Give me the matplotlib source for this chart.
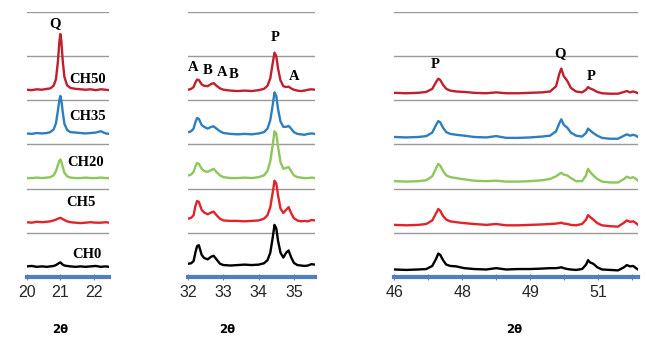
import matplotlib.pyplot as plt

names = ['CH0', 'CH5', 'CH20', 'CH35', 'CH50']
colors = ['#000000', '#E2232A', '#8DC65A', '#2E7DC0', '#C0202E']

# panel 1: 20-22.45
x1 = [20.0, 20.15, 20.3, 20.45, 20.6, 20.7, 20.8, 20.87, 20.93, 20.97, 21.0, 21.03,
      21.07, 21.12, 21.2, 21.3, 21.45, 21.6, 21.75, 21.9, 22.05, 22.2, 22.35, 22.45]
p1_ch0 = [.24, .25, .23, .24, .23, .24, .25, .27, .30, .32, .33, .31, .28, .26, .25, .24, .23, .24, .23, .24, .25, .23, .24, .23]
p1_ch5 = [.24, .23, .25, .24, .25, .26, .28, .30, .32, .33, .34, .33, .31, .29, .26, .24, .23, .22, .23, .24, .23, .23, .24, .23]
p1_ch20 = [.24, .24, .25, .24, .25, .26, .30, .40, .54, .63, .66, .61, .49, .36, .28, .25, .24, .24, .25, .24, .24, .25, .24, .24]
p1_ch35 = [.25, .24, .26, .25, .26, .28, .34, .48, .78, 1.0, 1.1, 1.0, .74, .47, .33, .28, .27, .26, .25, .26, .27, .30, .25, .24]
p1_ch50 = [.24, .23, .25, .24, .26, .27, .33, .48, .90, 1.32, 1.5, 1.34, .90, .53, .34, .28, .26, .25, .24, .25, .23, .25, .24, .23]

# panel 2: 32-35.6
x2 = [32.0, 32.08, 32.15, 32.2, 32.25, 32.3, 32.38, 32.45, 32.55, 32.65, 32.72, 32.8, 32.9,
      33.0, 33.2, 33.4, 33.6, 33.8, 34.0, 34.15, 34.25, 34.33, 34.4, 34.45, 34.5, 34.55,
      34.62, 34.7, 34.78, 34.85, 34.92, 35.0, 35.1, 35.2, 35.3, 35.4, 35.5, 35.6]
p2_ch0 = [.30, .31, .36, .55, .70, .72, .50, .43, .40, .46, .48, .40, .30, .27, .26, .27, .28, .27, .28,
          .31, .38, .55, .90, 1.18, 1.1, .82, .55, .44, .55, .60, .45, .32, .27, .26, .25, .26, .29, .28]
p2_ch5 = [.32, .34, .40, .60, .72, .70, .52, .46, .42, .46, .48, .40, .32, .28, .27, .27, .26, .27, .28,
          .32, .40, .58, .92, 1.18, 1.12, .85, .55, .45, .52, .58, .45, .33, .28, .26, .27, .26, .29, .28]
p2_ch20 = [.30, .32, .38, .50, .58, .56, .45, .40, .38, .42, .45, .38, .30, .26, .24, .24, .25, .24, .26,
           .30, .40, .62, 1.0, 1.3, 1.25, .95, .60, .45, .47, .49, .40, .30, .26, .25, .24, .24, .25, .24]
p2_ch35 = [.28, .30, .36, .50, .60, .58, .44, .40, .36, .40, .41, .36, .30, .26, .24, .23, .24, .23, .25,
           .28, .36, .55, .90, 1.18, 1.1, .80, .52, .40, .40, .42, .36, .28, .24, .23, .22, .24, .25, .24]
p2_ch50 = [.24, .26, .30, .40, .47, .46, .36, .33, .32, .37, .39, .33, .27, .24, .22, .21, .22, .21, .23,
           .26, .33, .50, .85, 1.08, 1.0, .72, .45, .32, .30, .31, .27, .24, .22, .21, .22, .24, .25, .24]

# panel 3: 46-52.1
x3 = [46.0, 46.3, 46.6, 46.8, 46.95, 47.05, 47.1, 47.15, 47.22, 47.3, 47.4, 47.55, 47.75, 48.0,
      48.3, 48.55, 48.8, 49.1, 49.4, 49.7, 49.9, 50.05, 50.13, 50.18, 50.24, 50.33, 50.42, 50.55,
      50.7, 50.8, 50.85, 50.9, 50.98, 51.08, 51.2, 51.4, 51.6, 51.75, 51.82, 51.9, 51.98, 52.05, 52.1]
p3_ch0 = [.17, .16, .17, .18, .25, .42, .53, .50, .38, .28, .25, .24, .20, .18, .17, .20, .17, .18, .18, .19, .20, .20,
          .21, .22, .20, .18, .17, .16, .18, .28, .38, .33, .30, .22, .17, .16, .15, .22, .27, .24, .25, .20, .17]
p3_ch5 = [.18, .17, .18, .20, .28, .45, .54, .50, .38, .30, .26, .24, .22, .20, .18, .20, .17, .17, .18, .19, .20, .21,
          .22, .23, .21, .20, .18, .17, .20, .30, .40, .36, .30, .22, .17, .15, .14, .23, .28, .25, .26, .22, .18]
p3_ch20 = [.17, .16, .17, .19, .28, .47, .56, .52, .40, .30, .26, .24, .21, .18, .17, .18, .16, .16, .17, .19, .22, .28,
           .33, .36, .32, .30, .24, .17, .17, .30, .45, .38, .30, .22, .16, .14, .14, .22, .27, .24, .26, .22, .18]
p3_ch35 = [.17, .16, .17, .19, .27, .45, .53, .50, .38, .28, .24, .22, .20, .17, .16, .19, .15, .15, .16, .18, .20, .30,
           .48, .57, .45, .38, .27, .20, .18, .26, .36, .32, .26, .20, .15, .13, .13, .20, .23, .20, .22, .20, .17]
p3_ch50 = [.17, .16, .17, .19, .26, .42, .49, .46, .35, .26, .22, .20, .19, .17, .16, .18, .16, .16, .17, .18, .20, .32,
           .60, .72, .55, .44, .28, .20, .18, .24, .30, .27, .24, .19, .16, .15, .15, .19, .21, .18, .20, .18, .16]

p1_ticks = [20, 21, 22]
p1_labels = ['20', '21', '22']
p2_ticks = [32, 33, 34, 35]
p2_labels = ['32', '33', '34', '35']
p3_ticks = [46.0, 46.85, 47.7, 48.55, 49.4, 50.25, 51.1, 51.95]
p3_labels = ['46', '', '48', '', '49', '', '51', '']

fig = plt.figure(figsize=(6.46, 3.38), dpi=100)
ax1 = fig.add_axes([0.0413, 0.1805, 0.1277, 0.784])
ax2 = fig.add_axes([0.2915, 0.1805, 0.1961, 0.784])
ax3 = fig.add_axes([0.6104, 0.1805, 0.3772, 0.784])

panels = [
    (ax1, x1, [p1_ch0, p1_ch5, p1_ch20, p1_ch35, p1_ch50], (20, 22.45), p1_ticks, p1_labels, 0.41),
    (ax2, x2, [p2_ch0, p2_ch5, p2_ch20, p2_ch35, p2_ch50], (32, 35.6), p2_ticks, p2_labels, 0.31),
    (ax3, x3, [p3_ch0, p3_ch5, p3_ch20, p3_ch35, p3_ch50], (46, 52.1), p3_ticks, p3_labels, 0.49),
]

for ax, x, series, lim, ticks, labels, lx in panels:
    for i, y in enumerate(series):
        ax.plot(x, [v + i for v in y], color=colors[i], lw=1.7, zorder=3)
    ax.set_xlim(lim)
    ax.set_ylim(0, 6)
    ax.set_yticks([1, 2, 3, 4, 5, 6])
    ax.grid(axis='y', color='#999999', lw=1)
    ax.set_axisbelow(True)
    for s in ['top', 'left', 'right']:
        ax.spines[s].set_visible(False)
    ax.spines['bottom'].set_color('#4F7FC0')
    ax.spines['bottom'].set_linewidth(3)
    ax.tick_params(axis='y', left=False, labelleft=False)
    ax.set_xticks(ticks)
    ax.set_xticklabels(labels, fontfamily='Liberation Sans', fontsize=11.5, color='#262626')
    ax.tick_params(axis='x', direction='inout', length=5, color='#808080', pad=3)
    ax.set_xlabel('2θ', fontsize=8.5, fontweight='bold')
    ax.xaxis.set_label_coords(lx, -0.175)

lab = dict(fontfamily='Liberation Serif', fontweight='bold', fontsize=10.5, ha='center', va='center')
ax1.text(20.83, 5.73, 'Q', **lab)
ax1.text(21.8, 4.48, 'CH50', **lab)
ax1.text(21.8, 3.63, 'CH35', **lab)
ax1.text(21.75, 2.59, 'CH20', **lab)
ax1.text(21.6, 1.68, 'CH5', **lab)
ax1.text(21.8, 0.5, 'CH0', **lab)

ax2.text(32.14, 4.74, 'A', **lab)
ax2.text(32.54, 4.67, 'B', **lab)
ax2.text(32.95, 4.63, 'A', **lab)
ax2.text(33.29, 4.59, 'B', **lab)
ax2.text(34.48, 5.42, 'P', **lab)
ax2.text(35.0, 4.54, 'A', **lab)

ax3.text(47.03, 4.82, 'P', **lab)
ax3.text(50.16, 5.05, 'Q', **lab)
ax3.text(50.93, 4.55, 'P', **lab)

plt.savefig('out.png', dpi=100)
